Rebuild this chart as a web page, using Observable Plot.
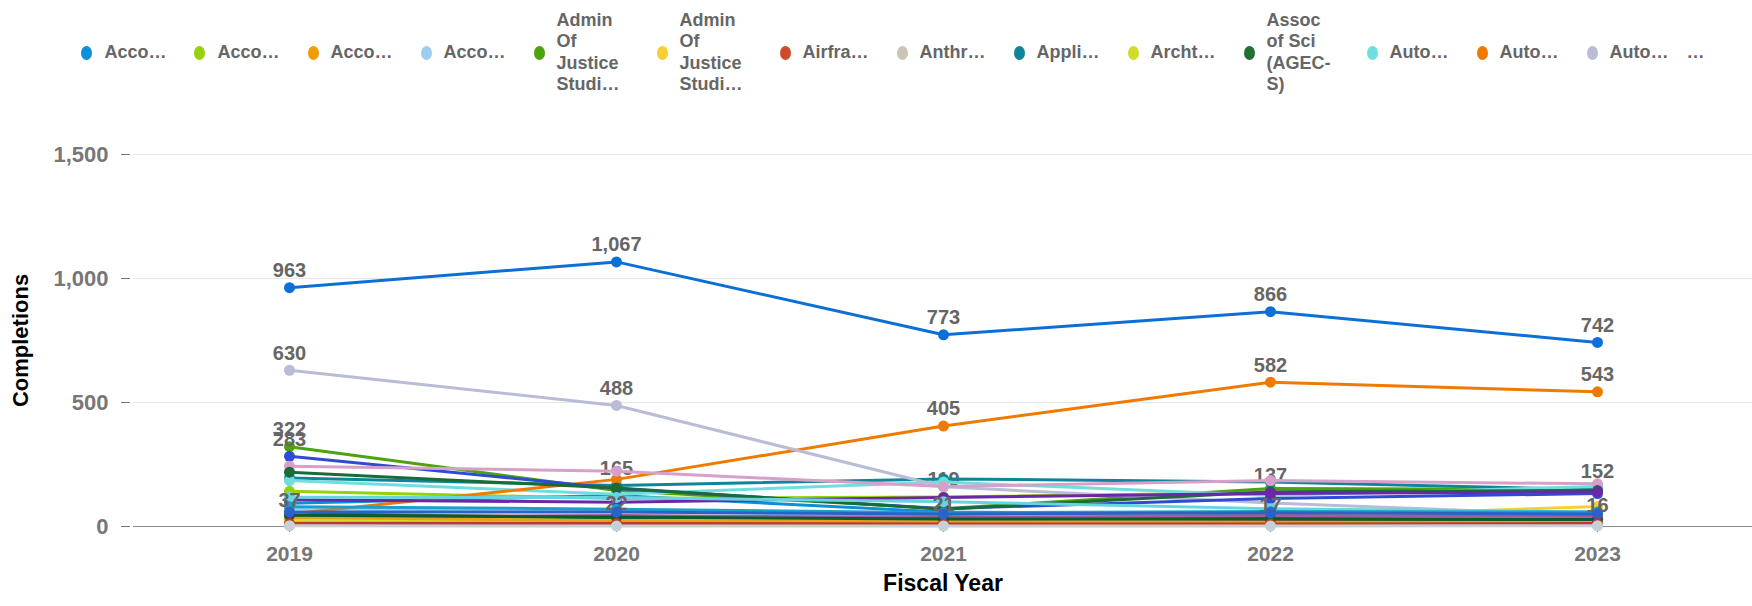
<!DOCTYPE html>
<html>
<head>
<meta charset="utf-8">
<script src="https://cdn.jsdelivr.net/npm/d3@7"></script>
<script src="https://cdn.jsdelivr.net/npm/@observablehq/plot@0.6"></script>
<style>
  html, body { margin: 0; padding: 0; background: #fff; }
  body { width: 1752px; height: 606px; overflow: hidden; font-family: "Liberation Sans", Arial, Helvetica, sans-serif; }
  #legend { height: 105px; display: flex; justify-content: center; align-items: center; gap: 28px; padding-left: 34px; box-sizing: border-box; }
  .item { display: flex; align-items: center; }
  .sw { width: 11px; height: 14px; border-radius: 50%; margin-right: 12px; flex: none; }
  .lab { font-size: 18px; font-weight: bold; color: #666; line-height: 21.5px; max-width: 72px; }
  .more { font-size: 18px; font-weight: bold; color: #666; margin-left: -10px; }
</style>
</head>
<body>
<div id="legend"></div>
<div id="chart"></div>
<script>
// ---- Data ----
const years = [2019, 2020, 2021, 2022, 2023];

const seriesNames = [
  "Accounting", "Accounting Technician", "Accounting - Payroll", "Accounting Clerk",
  "Admin Of Justice Studies (AA-T)", "Admin Of Justice Studies (AS)", "Airframe Maintenance",
  "Anthropology", "Applied Technology", "Archtecture", "Assoc of Sci (AGEC-S)",
  "Auto Body", "Auto Technology", "Automotive Service",
  "Business Administration", "Biology", "Child Development", "Communication Studies",
  "Computer Science", "Culinary Arts", "Dental Assisting", "Drafting", "Economics",
  "Electronics", "English", "Fire Technology", "General Studies"
];

const legendLabels = [
  "Acco…", "Acco…", "Acco…", "Acco…", "Admin Of Justice Studi…", "Admin Of Justice Studi…",
  "Airfra…", "Anthr…", "Appli…", "Archt…", "Assoc of Sci (AGEC-S)", "Auto…", "Auto…", "Auto…"
];

const seriesColors = [
  "#0a8fd8", "#96d20a", "#f39c00", "#9ecdee", "#4ca30d", "#f5d033", "#cf4b2d",
  "#cbc5b8", "#0f8599", "#d2db2c", "#1f7031", "#6ddfde", "#ef7a00", "#b9bcd6",
  "#0b6fd6", "#2f4bd1", "#d99fcb", "#1a6b3a", "#6a28a8", "#67d5e0", "#a45c9a",
  "#1aa0c8", "#e3a21a", "#0a5c2e", "#2a62c9", "#c0392b", "#c5d1d6"
];

const completions = [
  [94, 125, 58, 50, 40],
  [142, 113, 119, 137, 152],
  [30, 35, 40, 58, 44],
  [72, 60, 45, 40, 35],
  [322, 145, 72, 153, 150],
  [20, 25, 30, 35, 81],
  [15, 12, 18, 20, 22],
  [10, 8, 5, 6, 4],
  [196, 165, 192, 179, 148],
  [25, 28, 22, 15, 12],
  [52, 35, 38, 32, 28],
  [185, 130, 179, 125, 161],
  [50, 190, 405, 582, 543],
  [630, 488, 160, 95, 45],
  [963, 1067, 773, 866, 742],
  [283, 153, 72, 113, 133],
  [243, 223, 161, 185, 172],
  [219, 155, 70, 140, 145],
  [108, 98, 117, 133, 140],
  [118, 117, 100, 72, 58],
  [40, 44, 35, 44, 40],
  [80, 70, 55, 60, 58],
  [37, 22, 21, 17, 16],
  [45, 38, 30, 30, 28],
  [58, 58, 50, 55, 50],
  [12, 12, 10, 10, 12],
  [3, 2, 2, 2, 3]
];

// series whose value label is visible, per year
const labeled2019 = ["Business Administration", "Automotive Service", "Admin Of Justice Studies (AA-T)", "Biology", "Economics"];
const labeled2020 = ["Business Administration", "Automotive Service", "Applied Technology", "Economics"];
const labeled2021 = ["Business Administration", "Auto Technology", "Accounting Technician", "Economics"];
const labeled2022 = ["Business Administration", "Auto Technology", "Accounting Technician", "Economics"];
const labeled2023 = ["Business Administration", "Auto Technology", "Accounting Technician", "Economics"];

const yTicks = [0, 500, 1000, 1500];

// ---- Build ----
const labeledByYear = new Map([[2019, labeled2019], [2020, labeled2020], [2021, labeled2021], [2022, labeled2022], [2023, labeled2023]]);
const rows = seriesNames.flatMap((name, i) =>
  years.map((year, j) => ({series: name, idx: i, year, value: completions[i][j], color: seriesColors[i]})));

// Legend
const legend = document.getElementById("legend");
legendLabels.forEach((t, i) => {
  const it = document.createElement("div");
  it.className = "item";
  const sw = document.createElement("span");
  sw.className = "sw";
  sw.style.background = seriesColors[i];
  const lab = document.createElement("span");
  lab.className = "lab";
  lab.textContent = t;
  it.appendChild(sw); it.appendChild(lab);
  legend.appendChild(it);
});
const more = document.createElement("span");
more.className = "more";
more.textContent = "…";
legend.appendChild(more);

const fmt = d3.format(",");
const seriesMarks = seriesNames.flatMap((name, i) => {
  const d = rows.filter(r => r.idx === i);
  const lab = d.filter(r => labeledByYear.get(r.year).includes(r.series));
  return [
    Plot.line(d, {x: "year", y: "value", stroke: seriesColors[i], strokeWidth: 3}),
    Plot.dot(d, {x: "year", y: "value", fill: seriesColors[i], r: 5.5}),
    Plot.text(lab, {x: "year", y: "value", text: r => fmt(r.value), dy: -17, fontSize: 20, fontWeight: "bold", fill: "#666"})
  ];
});

const chart = Plot.plot({
  width: 1752,
  height: 501,
  marginLeft: 133,
  marginRight: 0,
  marginTop: 49,
  marginBottom: 80,
  style: {fontFamily: "'Liberation Sans', Arial, Helvetica, sans-serif", background: "#fff", overflow: "visible"},
  x: {type: "point", domain: years, padding: 0.47},
  y: {domain: [0, 1500]},
  marks: [
    Plot.gridY(yTicks.filter(v => v > 0), {stroke: "#e6e6e6", strokeOpacity: 1, strokeWidth: 1}),
    Plot.ruleY([0], {stroke: "#8c8c8c", strokeWidth: 1}),
    Plot.axisY(yTicks, {tickFormat: fmt, tickSize: 9, tickPadding: 13, dx: -3, fontSize: 22, fontWeight: "bold", color: "#777", label: null}),
    Plot.axisX(years, {tickFormat: d => String(d), tickSize: 6, tickPadding: 14, fontSize: 21, fontWeight: "bold", color: "#777", label: null}),
    ...seriesMarks,
    Plot.text(["Fiscal Year"], {text: d => d, frameAnchor: "bottom", textAnchor: "middle", dy: 64, fontSize: 23, fontWeight: "bold", fill: "#000"}),
    Plot.text(["Completions"], {text: d => d, frameAnchor: "left", textAnchor: "middle", rotate: -90, dx: -113, dy: 0, fontSize: 22, fontWeight: "bold", fill: "#000"})
  ]
});
document.getElementById("chart").appendChild(chart);
</script>
</body>
</html>
